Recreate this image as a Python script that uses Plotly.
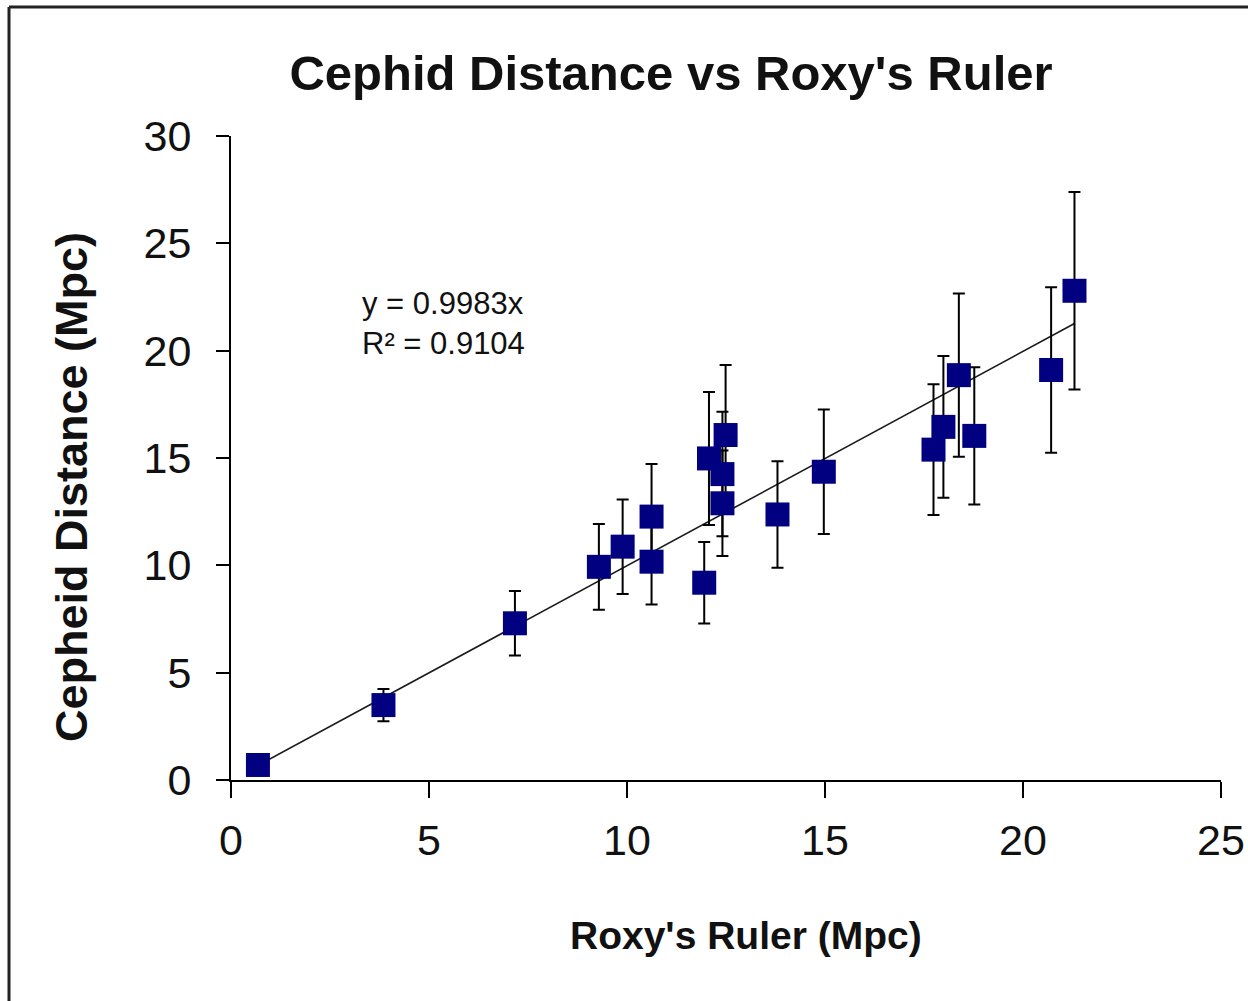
import plotly.graph_objects as go

# Data
roxy_ruler = [0.68, 3.85, 7.17, 9.29, 9.89, 10.62, 10.62, 11.95, 12.07, 12.49,
              12.41, 12.41, 13.80, 14.97, 17.74, 17.99, 18.38, 18.77, 20.71, 21.30]
cepheid_dist = [0.70, 3.49, 7.30, 9.93, 10.87, 12.27, 10.17, 9.19, 14.98, 16.07,
                14.25, 12.89, 12.37, 14.36, 15.39, 16.45, 18.86, 16.03, 19.10, 22.79]
cepheid_err = [0.0, 0.75, 1.5, 2.0, 2.2, 2.45, 2.0, 1.9, 3.1, 3.26,
               2.9, 2.46, 2.48, 2.9, 3.05, 3.3, 3.8, 3.2, 3.85, 4.6]
slope = 0.9983
r2 = 0.9104
x_ticks = [0, 5, 10, 15, 20, 25]
y_ticks = [0, 5, 10, 15, 20, 25, 30]

FONT = "Liberation Sans, Arial, sans-serif"

x_line = [min(roxy_ruler), max(roxy_ruler)]
y_line = [slope * v for v in x_line]

fig = go.Figure()
fig.add_trace(go.Scatter(
    x=x_line, y=y_line, mode="lines",
    line=dict(color="#1a1a1a", width=1.6),
    showlegend=False, hoverinfo="skip"))
fig.add_trace(go.Scatter(
    x=roxy_ruler, y=cepheid_dist, mode="markers",
    marker=dict(symbol="square", size=24, color="#000080",
                line=dict(width=0)),
    error_y=dict(type="data", array=cepheid_err, visible=True,
                 color="black", thickness=2, width=6),
    showlegend=False))

L, R, T, B = 231, 1221, 136, 780
W, H = 1248, 1001
pw, ph = R - L, B - T

def px_x(p):
    return (p - L) / pw

def px_y(p):
    return (B - p) / ph

fig.update_layout(
    width=W, height=H,
    margin=dict(l=L, r=W - R, t=T, b=H - B, pad=0, autoexpand=False),
    paper_bgcolor="white", plot_bgcolor="white",
    font=dict(family=FONT, color="black"),
    title=dict(text="<b>Cephid Distance vs Roxy's Ruler</b>",
               x=671 / W, xanchor="center", y=1 - 73 / H, yanchor="middle",
               font=dict(size=49, family=FONT, color="#111")),
    xaxis=dict(range=[0, 25], tickvals=x_ticks, ticktext=[str(v) for v in x_ticks],
               showgrid=False, zeroline=False, showline=True, linecolor="black",
               linewidth=2, ticks="outside", ticklen=16, tickwidth=2, tickcolor="black",
               tickfont=dict(size=43, family=FONT, color="#111"),
               ticklabelstandoff=5, automargin=False),
    yaxis=dict(range=[0, 30], tickvals=y_ticks, ticktext=[str(v) for v in y_ticks],
               showgrid=False, zeroline=False, showline=True, linecolor="black",
               linewidth=2, ticks="outside", ticklen=13, tickwidth=2, tickcolor="black",
               tickfont=dict(size=43, family=FONT, color="#111"),
               ticklabelstandoff=16, automargin=False),
    annotations=[
        dict(text="<b>Roxy's Ruler (Mpc)</b>", xref="paper", yref="paper",
             x=px_x(746), y=px_y(935), xanchor="center", yanchor="middle",
             showarrow=False, font=dict(size=39, family=FONT, color="#111")),
        dict(text="<b>Cepheid Distance (Mpc)</b>", xref="paper", yref="paper",
             x=px_x(72), y=px_y(487), xanchor="center", yanchor="middle",
             textangle=-90, showarrow=False,
             font=dict(size=45, family=FONT, color="#111")),
        dict(text=f"y = {slope}x<br>R² = {r2}", xref="paper", yref="paper",
             x=px_x(360), y=px_y(323), xanchor="left", yanchor="middle",
             align="left", showarrow=False,
             font=dict(size=31, family=FONT, color="#111")),
    ],
    shapes=[
        dict(type="line", xref="paper", yref="paper",
             x0=px_x(9), x1=px_x(9), y0=px_y(1010), y1=px_y(7),
             line=dict(color="#222", width=3)),
        dict(type="line", xref="paper", yref="paper",
             x0=px_x(9), x1=px_x(1260), y0=px_y(7), y1=px_y(7),
             line=dict(color="#222", width=3)),
    ],
)

fig.write_html("out.html")
